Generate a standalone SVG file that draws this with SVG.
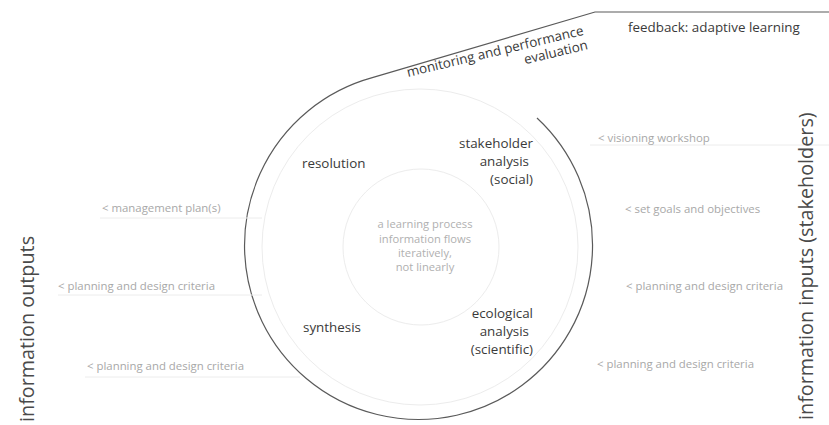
<svg xmlns="http://www.w3.org/2000/svg" width="829" height="425" viewBox="0 0 829 425">
<style>
text{font-family:"Open Sans","DejaVu Sans",sans-serif}
.main{font-size:13.4px;fill:#3a3a3a}
.small{font-size:11.4px;fill:#a8a8a8}
.center{font-size:11.2px;fill:#b0b0b0}
.vert{font-size:19.8px;fill:#4a4a4a}
.faint{fill:none;stroke:#ececec;stroke-width:1}
.spiral{fill:none;stroke:#5a5a5a;stroke-width:1.2}
</style>
<rect width="829" height="425" fill="#ffffff"/>
<g id="connectors">
<path class="spiral" d="M537,118 A174,174 0 1 1 372.3,77.7 L595,12 L829,12"/>
<line class="faint" x1="100" y1="218" x2="262" y2="218"/>
<line class="faint" x1="58" y1="295" x2="262" y2="295"/>
<line class="faint" x1="85" y1="377" x2="300" y2="377"/>
<line class="faint" x1="590" y1="145" x2="829" y2="145"/>
</g>
<g id="rings">
<circle class="faint" cx="420" cy="247" r="158"/>
<circle class="faint" cx="421" cy="247" r="78"/>
</g>
<g id="monitoring">
<g transform="translate(408,77) rotate(-13.5)">
<text class="main" x="0" y="0" font-size="14.5">monitoring and performance</text>
<text class="main" x="182" y="15" text-anchor="end" font-size="14.5">evaluation</text>
</g>
</g>
<g id="feedback"><text class="main" x="628" y="32" font-size="13.8">feedback: adaptive learning</text></g>
<g id="resolution"><text class="main" x="302" y="168">resolution</text></g>
<g id="stakeholder">
<text class="main" text-anchor="end"><tspan x="533" y="148">stakeholder</tspan><tspan x="529" y="166">analysis</tspan><tspan x="533" y="184">(social)</tspan></text>
</g>
<g id="center">
<text class="center" text-anchor="middle"><tspan x="425" y="228">a learning process</tspan><tspan x="425" y="243">information flows</tspan><tspan x="425" y="257">iteratively,</tspan><tspan x="425" y="271">not linearly</tspan></text>
</g>
<g id="synthesis"><text class="main" x="303" y="332">synthesis</text></g>
<g id="ecological">
<text class="main" text-anchor="end"><tspan x="533" y="318">ecological</tspan><tspan x="529" y="336">analysis</tspan><tspan x="533" y="354">(scientific)</tspan></text>
</g>
<g id="outputs">
<text class="small" x="102" y="212">&lt; management plan(s)</text>
<text class="small" x="58" y="290">&lt; planning and design criteria</text>
<text class="small" x="87" y="370">&lt; planning and design criteria</text>
</g>
<g id="inputs">
<text class="small" x="598" y="142">&lt; visioning workshop</text>
<text class="small" x="625" y="213">&lt; set goals and objectives</text>
<text class="small" x="626" y="290">&lt; planning and design criteria</text>
<text class="small" x="597" y="368">&lt; planning and design criteria</text>
</g>
<g id="label-outputs"><text class="vert" transform="translate(34,422) rotate(-90)">information outputs</text></g>
<g id="label-inputs"><text class="vert" transform="translate(813,420) rotate(-90)">information inputs (stakeholders)</text></g>
</svg>
